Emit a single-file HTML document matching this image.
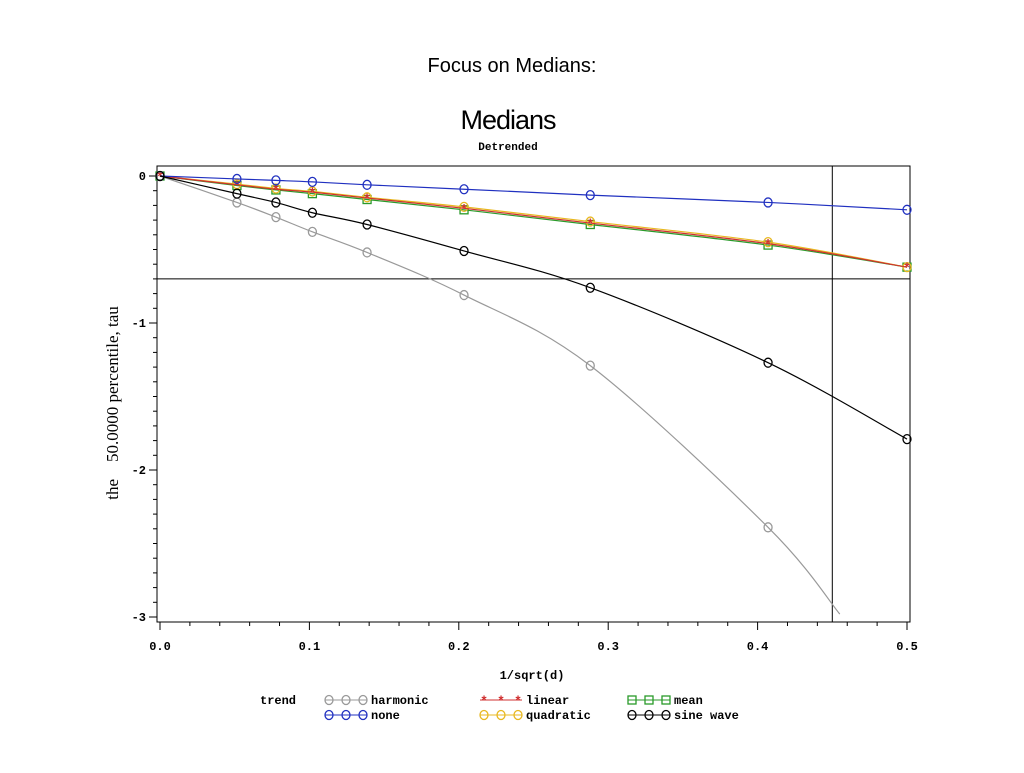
<!DOCTYPE html>
<html><head><meta charset="utf-8"><style>
body{margin:0;background:#fff;width:1024px;height:768px;overflow:hidden}
svg text{font-family:"Liberation Mono",monospace;font-weight:bold}
</style></head><body>
<svg id="c" width="1024" height="768">
<text x="512" y="72" text-anchor="middle" style="font-family:'Liberation Sans',sans-serif;font-weight:normal;font-size:20px">Focus on Medians:</text>
<text x="508" y="129" text-anchor="middle" style="font-family:'Liberation Sans',sans-serif;font-weight:normal;font-size:27px;letter-spacing:-1px">Medians</text>
<text x="508" y="150" text-anchor="middle" font-size="11">Detrended</text>
<rect x="157" y="166" width="753" height="456" fill="none" stroke="#000"/>
<text transform="translate(118,403) rotate(-90)" text-anchor="middle" xml:space="preserve" style="font-family:'Liberation Serif',serif;font-weight:normal;font-size:17px">the    50.0000 percentile, tau</text>
<text x="532" y="679" text-anchor="middle" font-size="12">1/sqrt(d)</text>
<g id="ax"></g><g id="marks"></g><g id="leg"></g>
</svg>
<script>
const xs=[0,0.0515,0.0776,0.102,0.1386,0.2035,0.288,0.407,0.5];
const harmonic=[0,-0.18,-0.28,-0.38,-0.52,-0.81,-1.29,-2.39];
const sine=[0,-0.12,-0.18,-0.25,-0.33,-0.51,-0.76,-1.27,-1.79];
const none=[0,-0.02,-0.03,-0.04,-0.06,-0.09,-0.13,-0.18,-0.23];
const linear=[0,-0.06,-0.09,-0.11,-0.15,-0.22,-0.32,-0.46,-0.62];
const mean=[0,-0.065,-0.095,-0.12,-0.16,-0.23,-0.33,-0.47,-0.62];
const quadratic=[0,-0.055,-0.085,-0.105,-0.145,-0.21,-0.31,-0.45,-0.62];
const xTicks=["0.0","0.1","0.2","0.3","0.4","0.5"];
const yTicks=[0,-1,-2,-3];
const refX=0.45, refY=-0.7, harmonicEnd=[0.455,-2.98];
const X=v=>160+v*1494, Y=v=>176-v*147;
const NS="http://www.w3.org/2000/svg";
function mk(t,a,p){const e=document.createElementNS(NS,t);for(const k in a)e.setAttribute(k,a[k]);p.appendChild(e);return e;}
const ax=document.getElementById('ax'),mg=document.getElementById('marks'),lg=document.getElementById('leg');
for(let i=0;i<=25;i++){const v=i*0.02;const l=mk('line',{x1:X(v),x2:X(v),y1:622,y2:i%5==0?630:626,stroke:'#000'},ax);
}
xTicks.forEach(t=>{const e=mk('text',{x:X(+t),y:650,'text-anchor':'middle','font-size':12},ax);e.textContent=t;
});
for(let i=0;i<=30;i++){const v=-i*0.1;const l=mk('line',{x1:i%10==0?149:153,x2:157,y1:Y(v),y2:Y(v),stroke:'#000'},ax);
}
yTicks.forEach(t=>{const e=mk('text',{x:146,y:Y(t)+4,'text-anchor':'end','font-size':12},ax);e.textContent=String(t);
});
let r=mk('line',{x1:X(refX),x2:X(refX),y1:166,y2:622,stroke:'#000'},ax);

r=mk('line',{x1:157,x2:910,y1:Y(refY),y2:Y(refY),stroke:'#000'},ax);

function marker(type,x,y,col,p){
 if(type=='star'){const g=mk('text',{x:x,y:y+5,'text-anchor':'middle',fill:col,'font-size':13},p);g.textContent='*';return g;}
 if(type=='sq')return mk('rect',{x:x-4,y:y-4,width:8,height:8,fill:'none',stroke:col,'stroke-width':1.3},p);
 return mk('ellipse',{cx:x,cy:y,rx:4,ry:4.5,fill:'none',stroke:col,'stroke-width':1.3},p);
}
function smooth(pts){
 let d='M'+pts[0].join(',');
 for(let i=0;i<pts.length-1;i++){
  const p0=pts[i-1]||pts[i],p1=pts[i],p2=pts[i+1],p3=pts[i+2]||p2;
  const c1=[p1[0]+(p2[0]-p0[0])/6,p1[1]+(p2[1]-p0[1])/6],c2=[p2[0]-(p3[0]-p1[0])/6,p2[1]-(p3[1]-p1[1])/6];
  d+=' C'+c1.join(',')+' '+c2.join(',')+' '+p2.join(',');
 }
 return d;
}
function series(name,vals,col,type,extra){
 const g=mk('g',{},mg);
 let pts=vals.map((v,i)=>[X(xs[i]),Y(v)]);
 if(extra)pts.push([X(extra[0]),Y(extra[1])]);
 const pl=mk('path',{d:smooth(pts),fill:'none',stroke:col,'stroke-width':1.2},g);
 
 vals.forEach((v,i)=>{const m=marker(type,X(xs[i]),Y(v),col,g);
 });
}
series('harmonic',harmonic,'#999','c',harmonicEnd);
series('mean',mean,'#2a9a2a','sq');
series('quadratic',quadratic,'#e8b820','c');
series('linear',linear,'#d03030','star');
series('none',none,'#2030c0','c');
series('sine-wave',sine,'#000','c');
const t=mk('text',{x:260,y:704,'font-size':12},lg);t.textContent='trend';

const L=[['harmonic','#999','c',325,700],['none','#2030c0','c',325,715],['linear','#d03030','star',480,700],['quadratic','#e8b820','c',480,715],['mean','#2a9a2a','sq',628,700],['sine wave','#000','c',628,715]];
L.forEach(([n,c,ty,x,y])=>{const g=mk('g',{},lg);
 mk('line',{x1:x,x2:x+42,y1:y,y2:y,stroke:c},g);
 [x+4,x+21,x+38].forEach(px=>marker(ty,px,y,c,g));
 const e=mk('text',{x:x+46,y:y+4,'font-size':12},g);e.textContent=n;});
</script>
</body></html>
